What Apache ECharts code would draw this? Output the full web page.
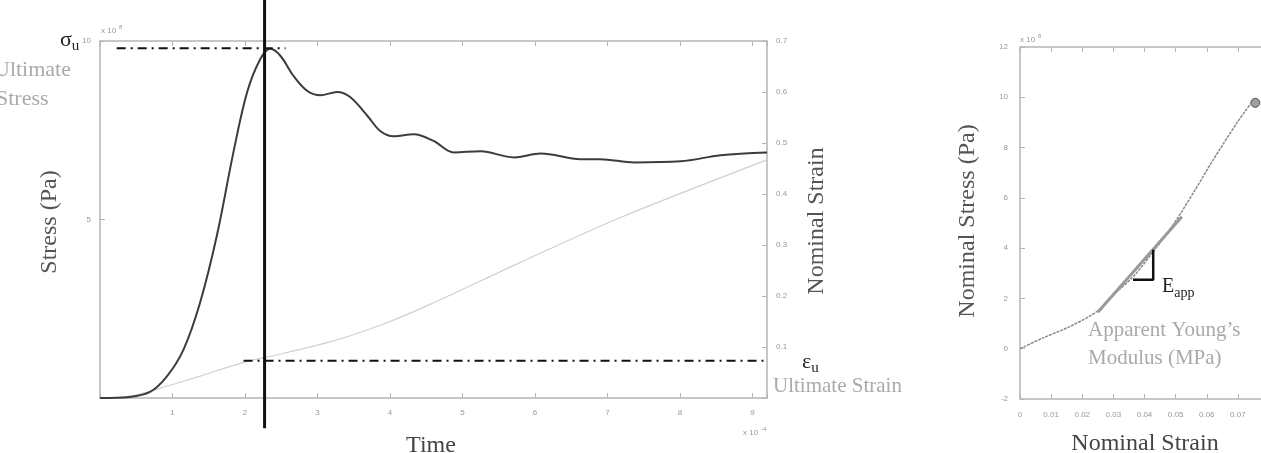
<!DOCTYPE html>
<html>
<head>
<meta charset="utf-8">
<script src="https://cdn.jsdelivr.net/npm/echarts@6/dist/echarts.min.js"></script>
<style>
  html, body { margin: 0; padding: 0; background: #fff; }
  #chart { width: 1261px; height: 453px; }
</style>
</head>
<body>
<div id="chart"></div>
<script>
// left panel: stress (x 10^8 Pa) and nominal strain against time (x 10^-4)
var timeStress = [0, 0.41, 0.69, 0.92, 1.15, 1.38, 1.61, 1.84, 2.03, 2.21, 2.35, 2.49, 2.67, 2.86, 3.04, 3.27, 3.45, 3.69, 3.87, 4.05, 4.33, 4.6, 4.88, 5.25, 5.71, 6.08, 6.63, 6.9, 7.37, 8.01, 8.56, 9.2];
var stress = [0, 0.03, 0.17, 0.6, 1.35, 2.67, 4.53, 6.88, 8.57, 9.49, 9.78, 9.58, 9.02, 8.6, 8.48, 8.57, 8.43, 7.9, 7.47, 7.33, 7.39, 7.2, 6.88, 6.91, 6.74, 6.85, 6.69, 6.69, 6.6, 6.63, 6.8, 6.88];
var timeStrain = [0.2, 0.5, 0.92, 1.38, 1.98, 2.3, 3.22, 3.91, 4.56, 5.8, 7.18, 9.2];
var strain = [0, 0.006, 0.023, 0.043, 0.07, 0.08, 0.112, 0.145, 0.184, 0.266, 0.354, 0.467];

// markers of the ultimate point
var ultimateTime = 2.27;
var ultimateStress = 9.8;
var ultimateStrain = 0.073;
var sigmaLineTime = [0.23, 2.56];
var epsLineTime = [1.98, 9.43];
var vLineStress = [-0.85, 11.2];

// right panel: nominal stress (x 10^8 Pa) against nominal strain
var nomStrain = [0, 0.0074, 0.016, 0.0247, 0.029, 0.0364, 0.0428, 0.0492, 0.0557, 0.062, 0.0698, 0.075];
var nomStress = [0, 0.43, 0.88, 1.48, 2.03, 2.87, 3.86, 4.93, 6.2, 7.5, 9.0, 9.9];
var fitStrain = [0.025, 0.052];
var fitStress = [1.45, 5.25];
var endPoint = [0.0756, 9.78];
var eappStrain = [0.0363, 0.0428, 0.0428];
var eappStress = [2.74, 2.74, 3.94];

// axis tick labels
var timeTicks = [1, 2, 3, 4, 5, 6, 7, 8, 9];
var stressTicks = [5, 10];
var strainTicks = [0.1, 0.2, 0.3, 0.4, 0.5, 0.6, 0.7];

function pairs(xs, ys) {
    return xs.map(function (x, i) { return [x, ys[i]]; });
}

var axisColor = "#b5b5b5";
var labelStyle = { color: "#999", fontSize: 8, fontFamily: "Liberation Sans" };
var serif = "Liberation Serif";

function onlyIn(list) {
    return function (v) {
        for (var i = 0; i < list.length; i++) {
            if (Math.abs(list[i] - v) < 1e-9) return String(list[i]);
        }
        return "";
    };
}

function baseAxis(extra) {
    var a = {
        axisLine: { show: true, onZero: false, lineStyle: { color: axisColor, width: 1.5 } },
        axisTick: { show: true, inside: true, length: 5, lineStyle: { color: axisColor } },
        axisLabel: Object.assign({}, labelStyle),
        splitLine: { show: false }
    };
    return Object.assign(a, extra);
}

var chart = echarts.init(document.getElementById("chart"));

chart.setOption({
    animation: false,
    grid: [
        { left: 100, top: 41, right: 494, bottom: 55, outerBoundsMode: "none" },
        // the right panel is cut by the picture edge, like the source figure
        { left: 1020, top: 47, right: -8, bottom: 54, outerBoundsMode: "none" }
    ],
    xAxis: [
        baseAxis({ type: "value", gridIndex: 0, min: 0, max: 9.2, interval: 1, position: "bottom",
            axisLabel: Object.assign({}, labelStyle, { margin: 11, formatter: onlyIn(timeTicks) }) }),
        baseAxis({ type: "value", gridIndex: 0, min: 0, max: 9.2, interval: 1, position: "top",
            axisLabel: { show: false } }),
        baseAxis({ type: "value", gridIndex: 1, min: 0, max: 0.08, interval: 0.01, position: "bottom",
            axisLabel: Object.assign({}, labelStyle, { margin: 12, formatter: function (v) { return String(+v.toFixed(2)); } }) }),
        baseAxis({ type: "value", gridIndex: 1, min: 0, max: 0.08, interval: 0.01, position: "top",
            axisLabel: { show: false } })
    ],
    yAxis: [
        baseAxis({ type: "value", gridIndex: 0, min: 0, max: 10, interval: 5, position: "left",
            axisLabel: Object.assign({}, labelStyle, { margin: 9, formatter: onlyIn(stressTicks) }) }),
        baseAxis({ type: "value", gridIndex: 0, min: 0, max: 0.7, interval: 0.1, position: "right",
            axisLabel: Object.assign({}, labelStyle, { margin: 9, formatter: onlyIn(strainTicks) }) }),
        baseAxis({ type: "value", gridIndex: 1, min: -2, max: 12, interval: 2, position: "left",
            axisLabel: Object.assign({}, labelStyle, { margin: 12 }) })
    ],
    series: [
        { type: "line", xAxisIndex: 0, yAxisIndex: 1, data: pairs(timeStrain, strain), smooth: 0.3,
            symbol: "none", lineStyle: { color: "#d0d0d0", width: 1.2 } },
        { type: "line", xAxisIndex: 0, yAxisIndex: 0, data: pairs(timeStress, stress), smooth: 0.35,
            symbol: "none", lineStyle: { color: "#3c3c3c", width: 2 } },
        { type: "line", xAxisIndex: 0, yAxisIndex: 0, clip: false, symbol: "none",
            data: pairs(sigmaLineTime, [ultimateStress, ultimateStress]),
            lineStyle: { color: "#111", width: 2, type: [9, 5, 2, 5] } },
        { type: "line", xAxisIndex: 0, yAxisIndex: 1, clip: false, symbol: "none",
            data: pairs(epsLineTime, [ultimateStrain, ultimateStrain]),
            lineStyle: { color: "#111", width: 2, type: [9, 5, 2, 5] } },
        { type: "line", xAxisIndex: 0, yAxisIndex: 0, clip: false, symbol: "none",
            data: pairs([ultimateTime, ultimateTime], vLineStress),
            lineStyle: { color: "#111", width: 3 } },

        { type: "line", xAxisIndex: 2, yAxisIndex: 2, data: pairs(nomStrain, nomStress), smooth: 0.3,
            symbol: "none", lineStyle: { color: "#8a8a8a", width: 1.5, type: [3, 1] } },
        { type: "line", xAxisIndex: 2, yAxisIndex: 2, data: pairs(fitStrain, fitStress),
            symbol: "none", lineStyle: { color: "#9a9a9a", width: 3 } },
        { type: "scatter", xAxisIndex: 2, yAxisIndex: 2, data: [endPoint], symbolSize: 9,
            itemStyle: { color: "#888", borderColor: "#333", borderWidth: 1 } },
        { type: "line", xAxisIndex: 2, yAxisIndex: 2, data: pairs(eappStrain, eappStress),
            symbol: "none", lineStyle: { color: "#111", width: 2.5 } }
    ],
    graphic: [
        // left panel texts
        { type: "text", x: 50, y: 222, rotation: Math.PI / 2,
            style: { text: "Stress (Pa)", font: "24px " + serif, fill: "#555", align: "center", verticalAlign: "middle" } },
        { type: "text", x: 431, y: 446,
            style: { text: "Time", font: "24px " + serif, fill: "#444", align: "center", verticalAlign: "middle" } },
        { type: "text", x: 817, y: 221, rotation: Math.PI / 2,
            style: { text: "Nominal Strain", font: "24px " + serif, fill: "#555", align: "center", verticalAlign: "middle" } },
        { type: "text", x: 60, y: 40,
            style: { text: "{a|σ}{b|u}", align: "left", verticalAlign: "middle",
                rich: { a: { font: "22px " + serif, fill: "#222" }, b: { font: "15px " + serif, fill: "#222", padding: [12, 0, 0, 0] } } } },
        { type: "text", x: -6, y: 70,
            style: { text: "Ultimate", font: "22px " + serif, fill: "#aaa", align: "left", verticalAlign: "middle" } },
        { type: "text", x: -4, y: 99,
            style: { text: "Stress", font: "22px " + serif, fill: "#aaa", align: "left", verticalAlign: "middle" } },
        { type: "text", x: 802, y: 362,
            style: { text: "{a|ε}{b|u}", align: "left", verticalAlign: "middle",
                rich: { a: { font: "22px " + serif, fill: "#222" }, b: { font: "15px " + serif, fill: "#222", padding: [12, 0, 0, 0] } } } },
        { type: "text", x: 773, y: 386,
            style: { text: "Ultimate Strain", font: "21px " + serif, fill: "#aaa", align: "left", verticalAlign: "middle" } },
        { type: "text", x: 101, y: 31,
            style: { text: "x 10", font: "8px Liberation Sans", fill: "#999", align: "left", verticalAlign: "middle" } },
        { type: "text", x: 119, y: 27,
            style: { text: "8", font: "6px Liberation Sans", fill: "#999", align: "left", verticalAlign: "middle" } },
        { type: "text", x: 743, y: 433,
            style: { text: "x 10", font: "8px Liberation Sans", fill: "#999", align: "left", verticalAlign: "middle" } },
        { type: "text", x: 761, y: 429,
            style: { text: "-4", font: "6px Liberation Sans", fill: "#999", align: "left", verticalAlign: "middle" } },

        // right panel texts
        { type: "text", x: 968, y: 221, rotation: Math.PI / 2,
            style: { text: "Nominal Stress (Pa)", font: "24px " + serif, fill: "#555", align: "center", verticalAlign: "middle" } },
        { type: "text", x: 1145, y: 444,
            style: { text: "Nominal Strain", font: "24px " + serif, fill: "#444", align: "center", verticalAlign: "middle" } },
        { type: "text", x: 1020, y: 40,
            style: { text: "x 10", font: "8px Liberation Sans", fill: "#999", align: "left", verticalAlign: "middle" } },
        { type: "text", x: 1038, y: 36,
            style: { text: "8", font: "6px Liberation Sans", fill: "#999", align: "left", verticalAlign: "middle" } },
        { type: "text", x: 1162, y: 287,
            style: { text: "{a|E}{b|app}", align: "left", verticalAlign: "middle",
                rich: { a: { font: "20px " + serif, fill: "#222" }, b: { font: "14px " + serif, fill: "#222", padding: [12, 0, 0, 0] } } } },
        { type: "text", x: 1088, y: 330,
            style: { text: "Apparent Young’s", font: "21px " + serif, fill: "#aaa", align: "left", verticalAlign: "middle" } },
        { type: "text", x: 1088, y: 358,
            style: { text: "Modulus (MPa)", font: "21px " + serif, fill: "#aaa", align: "left", verticalAlign: "middle" } }
    ]
});

window.addEventListener("resize", function () {
    chart.resize();
});
</script>
</body>
</html>
